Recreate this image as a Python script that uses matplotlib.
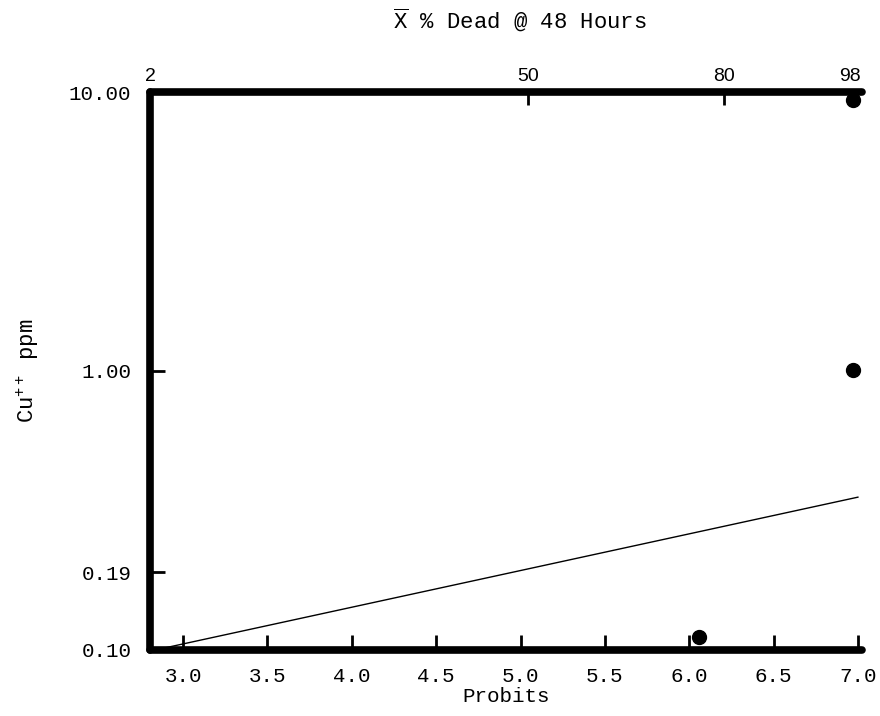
import matplotlib
matplotlib.use("Agg")
import matplotlib.pyplot as plt
from matplotlib.ticker import FixedLocator, NullLocator

# valeurs
probits = [3.0, 3.5, 4.0, 4.5, 5.0, 5.5, 6.0, 6.5, 7.0]
pct_labels = ["2", "50", "80", "98"]
pct_pos = [2.804, 5.045, 6.206, 6.95]
cu_ticks = [0.10, 0.19, 1.00, 10.00]
cu_labels = ["0.10", "0.19", "1.00", "10.00"]

pts_x = [6.97, 6.97, 6.06]
pts_y = [9.4, 1.01, 0.111]

line_x = [2.9, 7.0]
line_y = [0.102, 0.353]

plt.rcParams["font.family"] = ["Liberation Mono", "DejaVu Sans Mono"]
plt.rcParams["mathtext.fontset"] = "custom"
plt.rcParams["mathtext.rm"] = "Liberation Mono"
plt.rcParams["mathtext.it"] = "Liberation Mono"
plt.rcParams["xtick.direction"] = "in"
plt.rcParams["ytick.direction"] = "in"

fig = plt.figure(figsize=(8.8, 7.16), dpi=100)
ax = fig.add_axes([0.1705, 0.0922, 0.809, 0.7793])

ax.plot(line_x, line_y, color="black", lw=1.0)
ax.plot(pts_x, pts_y, "o", color="black", ms=10, clip_on=False, zorder=5)

ax.set_yscale("log")
ax.set_xlim(2.804, 7.024)
ax.set_ylim(0.1, 10)

ax.xaxis.set_major_locator(FixedLocator(probits))
ax.set_xticklabels([f"{p:.1f}" for p in probits])
ax.yaxis.set_major_locator(FixedLocator(cu_ticks))
ax.yaxis.set_minor_locator(NullLocator())
ax.set_yticklabels(cu_labels)

ax.tick_params(axis="x", which="both", direction="in", length=11, width=2,
               labelsize=15, pad=12)
ax.tick_params(axis="y", which="both", direction="in", length=11, width=2,
               labelsize=15, pad=13.5)

for s in ["left", "bottom", "top"]:
    ax.spines[s].set_linewidth(5.5)
    ax.spines[s].set_capstyle("round")
ax.spines["right"].set_visible(False)

# axe du haut : % de morts
top = ax.secondary_xaxis("top")
top.xaxis.set_major_locator(FixedLocator(pct_pos))
top.set_xticklabels(pct_labels, family="Liberation Sans", fontsize=14)
top.tick_params(direction="in", length=9, width=2, pad=5)
top.spines["top"].set_visible(False)

ax.set_xlabel("Probits", fontsize=15, labelpad=1)
ax.set_ylabel("Cu$^{++}$ ppm", fontsize=16, labelpad=20)
fig.text(0.591, 0.972, r"$\overline{\mathrm{X}}$ % Dead @ 48 Hours", fontsize=16,
         ha="center", va="center")

fig.savefig("out.png", dpi=100)
